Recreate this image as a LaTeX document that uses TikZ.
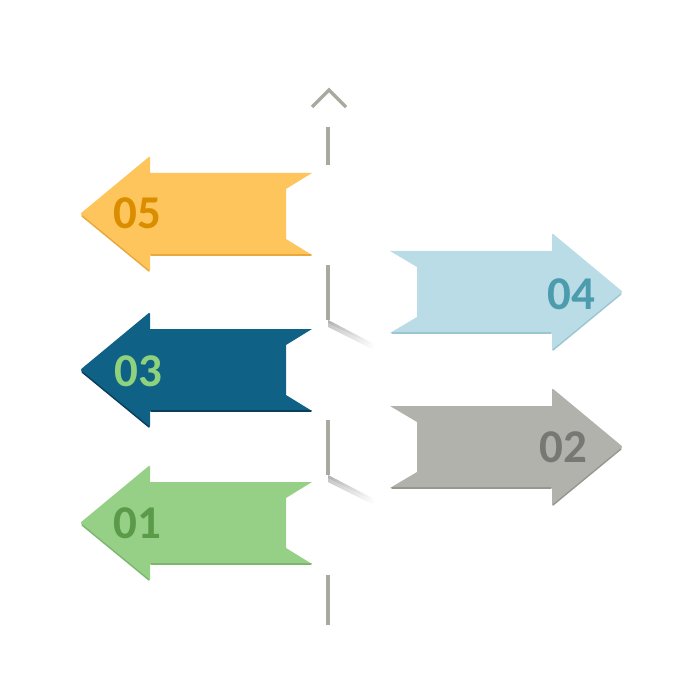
\documentclass[tikz,border=0pt]{standalone}
\usepackage{fontspec}
\setmainfont{Carlito}
\usepackage{xcolor}
\definecolor{orangeA}{HTML}{FDC55B}
\definecolor{orangeT}{HTML}{DB8D00}
\definecolor{orangeE}{HTML}{E8A83C}
\definecolor{navyA}{HTML}{0F6185}
\definecolor{navyT}{HTML}{8FD27E}
\definecolor{navyE}{HTML}{0A3D57}
\definecolor{greenA}{HTML}{96CF86}
\definecolor{greenT}{HTML}{5B9A48}
\definecolor{greenE}{HTML}{7DB66E}
\definecolor{blueA}{HTML}{BADCE6}
\definecolor{blueT}{HTML}{4C9CAE}
\definecolor{blueE}{HTML}{9CC5D2}
\definecolor{grayA}{HTML}{B1B2AC}
\definecolor{grayT}{HTML}{777873}
\definecolor{grayE}{HTML}{96978F}
\definecolor{axisgray}{HTML}{A8A99F}

\begin{document}
\begin{tikzpicture}[x=1pt, y=-1pt,
    num/.style={font=\fontsize{47}{47}\selectfont\bfseries, inner sep=0pt},
    axis/.style={line width=4pt, color=axisgray},
    lip/.style={line width=1.4pt, line cap=round}]
    \useasboundingbox (0,0) rectangle (700,700);

    % Axis with chevron
    \draw[axis, line width=3.5pt, line join=miter] (312,107) -- (329,90) -- (346,107);
    \draw[axis] (328,127) -- (328,165);
    \draw[axis] (328,265) -- (328,320);
    \draw[axis] (328,420) -- (328,475);
    \draw[axis] (328,575) -- (328,625);

    % Shadows under the hexagons
    \shade[left color=black!22, right color=white] (328,320) -- (374,344) -- (374,350) -- (328,327) -- cycle;
    \shade[left color=black!30, right color=white] (328,320) -- (374,344) -- (374,346) -- (328,323) -- cycle;
    \shade[left color=black!22, right color=white] (328,475) -- (374,499) -- (374,505) -- (328,482) -- cycle;
    \shade[left color=black!30, right color=white] (328,475) -- (374,499) -- (374,501) -- (328,478) -- cycle;

    % Arrow 05
    \fill[orangeA] (312,173) -- (286,189) -- (286,239) -- (312,255) -- (150,255)
        [rounded corners=2pt] -- (150,272) -- (80,214) -- (150,156) [sharp corners] -- (150,173) -- cycle;
    \draw[lip, orangeE] (82,216) -- (149,271);
    \draw[lip, orangeE] (151,255) -- (311,255);
    \node[num, orangeT] (n05) at (137,213) {05};

    % Arrow 04
    \fill[blueA] (390,251) -- (417,267) -- (417,317) -- (390,333) -- (552,333)
        [rounded corners=2pt] -- (552,351) -- (623,292) -- (552,233) [sharp corners] -- (552,251) -- cycle;
    \draw[lip, blueE] (392,333) -- (551,333);
    \draw[lip, blueE] (553,350) -- (621,294);
    \node[num, blueT] (n04) at (571,294) {04};

    % Arrow 03
    \fill[navyA] (312,329) -- (286,345) -- (286,395) -- (312,411) -- (150,411)
        [rounded corners=2pt] -- (150,428) -- (80,370) -- (150,312) [sharp corners] -- (150,329) -- cycle;
    \draw[lip, navyE] (82,372) -- (149,427);
    \draw[lip, navyE] (151,411) -- (311,411);
    \node[num, navyT] (n03) at (138,371) {03};

    % Arrow 02
    \fill[grayA] (390,406) -- (417,422) -- (417,472) -- (390,488) -- (552,488)
        [rounded corners=2pt] -- (552,506) -- (623,447) -- (552,388) [sharp corners] -- (552,406) -- cycle;
    \draw[lip, grayE] (392,488) -- (551,488);
    \draw[lip, grayE] (553,505) -- (621,449);
    \node[num, grayT] (n02) at (563,447) {02};

    % Arrow 01
    \fill[greenA] (312,482) -- (286,498) -- (286,548) -- (312,564) -- (150,564)
        [rounded corners=2pt] -- (150,581) -- (80,523) -- (150,465) [sharp corners] -- (150,482) -- cycle;
    \draw[lip, greenE] (82,525) -- (149,580);
    \draw[lip, greenE] (151,564) -- (311,564);
    \node[num, greenT] (n01) at (137,523) {01};
\end{tikzpicture}
\end{document}
